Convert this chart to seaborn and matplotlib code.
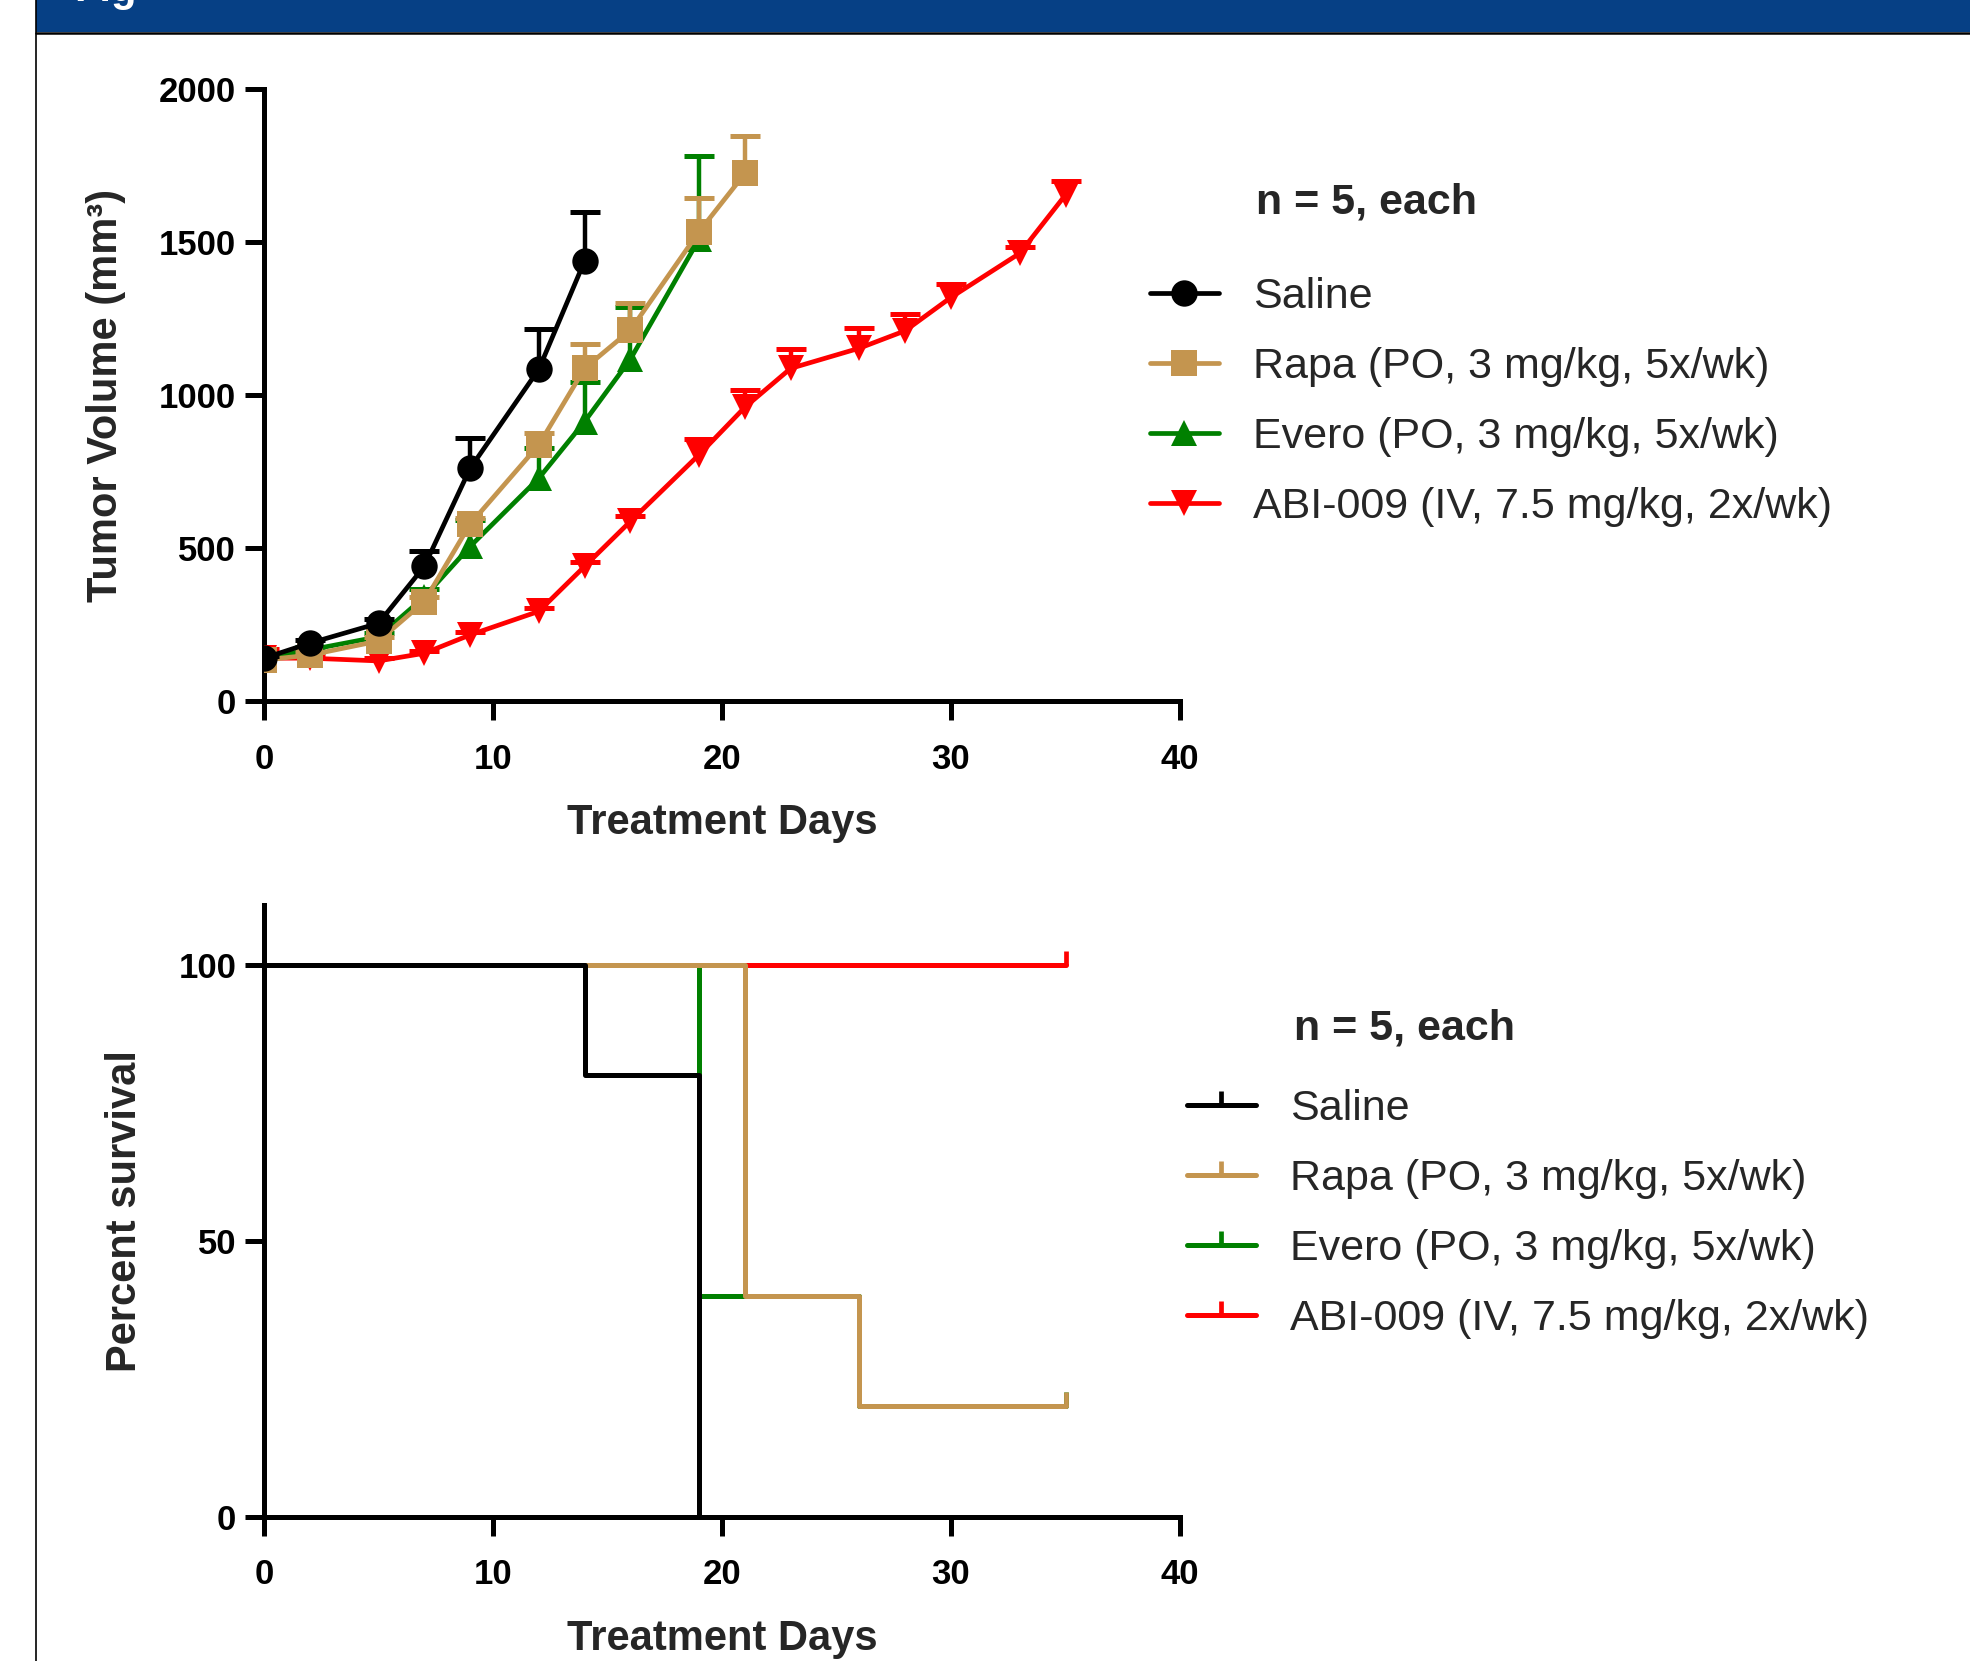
import numpy as np
import pandas as pd
import matplotlib
matplotlib.use("Agg")
import matplotlib.pyplot as plt
import seaborn as sns
from matplotlib.lines import Line2D
from matplotlib.path import Path
from matplotlib.patches import Rectangle

sns.set_style("ticks")
plt.rcParams['font.family'] = ['Liberation Sans', 'DejaVu Sans']

# ---- tumor volume data (mean, upper SEM) ----
days_saline = [0, 2, 5, 7, 9, 12, 14]
vol_saline = [140, 189, 254, 440, 760, 1084, 1438]
sem_saline = [8, 10, 15, 49, 100, 132, 161]

days_rapa = [0, 2, 5, 7, 9, 12, 14, 16, 19, 21]
vol_rapa = [134, 150, 196, 325, 578, 837, 1087, 1212, 1534, 1724]
sem_rapa = [8, 10, 12, 15, 20, 40, 79, 88, 111, 122]

days_evero = [0, 2, 5, 7, 9, 12, 14, 16, 19]
vol_evero = [140, 167, 210, 340, 505, 728, 913, 1117, 1510]
sem_evero = [8, 10, 12, 27, 85, 98, 130, 170, 270]

days_abi = [0, 2, 5, 7, 9, 12, 14, 16, 19, 21, 23, 26, 28, 30, 33, 35]
vol_abi = [140, 140, 131, 156, 216, 293, 440, 587, 805, 960, 1087, 1153, 1210, 1319, 1463, 1654]
sem_abi = [30, 8, 8, 8, 10, 12, 15, 18, 50, 55, 63, 65, 55, 44, 20, 46]

# ---- survival data (Kaplan-Meier steps) ----
surv_t_saline = [0, 14, 19]
surv_p_saline = [100, 80, 0]
surv_t_rapa = [0, 21, 26, 35]
surv_p_rapa = [100, 40, 20, 20]
surv_t_evero = [0, 19, 26, 35]
surv_p_evero = [100, 40, 20, 20]
surv_t_abi = [0, 35]
surv_p_abi = [100, 100]

labels = ["Saline", "Rapa (PO, 3 mg/kg, 5x/wk)",
          "Evero (PO, 3 mg/kg, 5x/wk)", "ABI-009 (IV, 7.5 mg/kg, 2x/wk)"]
colors = ["#000000", "#C4954F", "#008000", "#FF0000"]
markers = ["o", "s", "^", "v"]

tumor = [(days_saline, vol_saline, sem_saline),
         (days_rapa, vol_rapa, sem_rapa),
         (days_evero, vol_evero, sem_evero),
         (days_abi, vol_abi, sem_abi)]
survival = [(surv_t_saline, surv_p_saline),
            (surv_t_rapa, surv_p_rapa),
            (surv_t_evero, surv_p_evero),
            (surv_t_abi, surv_p_abi)]
censored = [False, True, True, True]

W, H = 1970, 1661
fig = plt.figure(figsize=(W / 100, H / 100), dpi=100)
fig.patch.set_facecolor("white")

# header banner + left frame line
fig.add_artist(Rectangle((36 / W, 1 - 32 / H), 1, 32 / H, transform=fig.transFigure,
                         facecolor="#064085", edgecolor="none", zorder=0))
fig.add_artist(Line2D([36 / W, 1], [1 - 33 / H, 1 - 33 / H], transform=fig.transFigure,
                      color="black", lw=1.8))
fig.add_artist(Line2D([36 / W, 36 / W], [0, 1], transform=fig.transFigure,
                      color="black", lw=1.2))
fig.text(74 / W, 1 - 1 / H, "Fig", color="white", fontsize=30, fontweight="bold",
         va="baseline", ha="left")

TICK_FS = 25
LABEL_FS = 30
LEG_FS = 31
LW = 3.4
SPINE = 3.6
MS = 19


def style_axes(ax):
    sns.despine(ax=ax)
    for s in ["left", "bottom"]:
        ax.spines[s].set_linewidth(SPINE)
        ax.spines[s].set_color("black")
    ax.tick_params(axis="both", direction="out", length=14, width=SPINE, colors="black")
    ax.tick_params(axis="x", pad=16)
    ax.tick_params(axis="y", pad=6)
    for t in ax.get_xticklabels() + ax.get_yticklabels():
        t.set_fontsize(TICK_FS)
        t.set_fontweight("bold")
    ax.grid(False)


# ---------------- top: tumor volume ----------------
ax1 = fig.add_axes([264 / W, 1 - 701 / H, (1180 - 264) / W, (701 - 89) / H])
for i in [3, 2, 1, 0]:
    d, v, e = tumor[i]
    df = pd.DataFrame({"day": d, "vol": v})
    z = 3 + (3 - i)
    eb = ax1.errorbar(d, v, yerr=[np.zeros(len(e)), e], fmt="none", ecolor=colors[i],
                      elinewidth=3.2, capsize=10.5, capthick=3.6, zorder=z)
    # only the upper cap is shown (one-sided SEM)
    for cl in eb[1]:
        if np.allclose(cl.get_ydata(), v):
            cl.set_visible(False)
    sns.lineplot(data=df, x="day", y="vol", ax=ax1, color=colors[i], marker=markers[i],
                 markersize=MS, markeredgewidth=0, linewidth=LW, estimator=None,
                 legend=False, zorder=z)
ax1.set_xlim(0, 40)
ax1.set_ylim(0, 2000)
ax1.set_xticks([0, 10, 20, 30, 40])
ax1.set_yticks([0, 500, 1000, 1500, 2000])
ax1.set_xlabel("Treatment Days", labelpad=20, fontsize=LABEL_FS, fontweight="bold")
ax1.set_ylabel("Tumor Volume (mm³)", labelpad=24, fontsize=LABEL_FS, fontweight="bold")
style_axes(ax1)

h1 = [Line2D([], [], color=colors[i], marker=markers[i], markersize=MS,
             markeredgewidth=0, lw=LW) for i in range(4)]
fig.text(1256 / W, 1 - 203 / H, "n = 5, each", fontsize=31, fontweight="bold",
         family=["Liberation Sans Narrow", "Liberation Sans"], va="center", ha="left")
fig.legend(h1, labels, loc="upper left", bbox_to_anchor=(1150 / W, 1 - 277 / H),
           frameon=False, borderpad=0, borderaxespad=0, handlelength=1.6,
           handletextpad=0.8, labelspacing=0.70, fontsize=LEG_FS)

# ---------------- bottom: survival ----------------
tick_mark = Path([(0, 0), (0, 1)], [Path.MOVETO, Path.LINETO])
ax2 = fig.add_axes([264 / W, 1 - 1516.5 / H, (1180 - 264) / W, (1516.5 - 904.6) / H])
for i in [3, 2, 1, 0]:
    t, p = survival[i]
    df = pd.DataFrame({"t": t, "p": p})
    z = 3 + (3 - i)
    sns.lineplot(data=df, x="t", y="p", ax=ax2, color=colors[i], linewidth=3.6,
                 drawstyle="steps-post", estimator=None, sort=False, legend=False,
                 zorder=z)
    if censored[i]:
        ax2.plot([t[-1]], [p[-1]], linestyle="none", marker=tick_mark, markersize=20,
                 markeredgewidth=3.4, color=colors[i], zorder=z, clip_on=False)
ax2.set_xlim(0, 40)
ax2.set_ylim(0, 111)
ax2.set_xticks([0, 10, 20, 30, 40])
ax2.set_yticks([0, 50, 100])
ax2.set_xlabel("Treatment Days", labelpad=20, fontsize=LABEL_FS, fontweight="bold")
ax2.set_ylabel("Percent survival", labelpad=24, fontsize=LABEL_FS, fontweight="bold")
style_axes(ax2)

h2 = [Line2D([], [], color=colors[i], marker=tick_mark, markersize=20,
             markeredgewidth=3.4, lw=3.6) for i in range(4)]
fig.text(1294 / W, 1 - 1029 / H, "n = 5, each", fontsize=31, fontweight="bold",
         family=["Liberation Sans Narrow", "Liberation Sans"], va="center", ha="left")
fig.legend(h2, labels, loc="upper left", bbox_to_anchor=(1187 / W, 1 - 1089 / H),
           frameon=False, borderpad=0, borderaxespad=0, handlelength=1.6,
           handletextpad=0.8, labelspacing=0.70, fontsize=LEG_FS)

fig.savefig("out.png", dpi=100)
